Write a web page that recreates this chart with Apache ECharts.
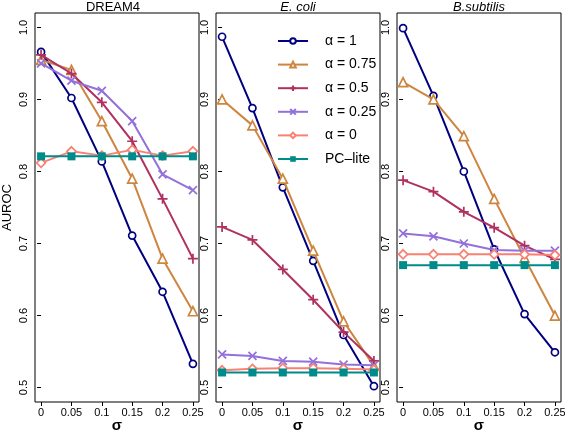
<!DOCTYPE html>
<html><head><meta charset="utf-8">
<script src="https://cdn.jsdelivr.net/npm/echarts@6/dist/echarts.min.js"></script>
<style>html,body{margin:0;padding:0;background:#fff}#c{width:565px;height:433px}</style>
</head><body><div id="c"></div>
<script>
// ---- data ----
const sigma = [0, 0.05, 0.1, 0.15, 0.2, 0.25];
const xTicks = [0, 0.05, 0.1, 0.15, 0.2, 0.25];
const yTicks = [0.5, 0.6, 0.7, 0.8, 0.9, 1.0];
const panelTitles = ['DREAM4', 'E. coli', 'B.subtilis'];
const xAxisTitle = 'σ';
const seriesNames = ['α = 1', 'α = 0.75', 'α = 0.5', 'α = 0.25', 'α = 0', 'PC–lite'];

const dream4_a1   = [0.966, 0.902, 0.814, 0.711, 0.633, 0.533];
const dream4_a075 = [0.955, 0.941, 0.870, 0.790, 0.679, 0.606];
const dream4_a05  = [0.962, 0.936, 0.896, 0.842, 0.762, 0.679];
const dream4_a025 = [0.950, 0.926, 0.912, 0.870, 0.796, 0.774];
const dream4_a0   = [0.812, 0.828, 0.822, 0.830, 0.822, 0.828];
const dream4_pc   = [0.821, 0.821, 0.821, 0.821, 0.821, 0.821];

const ecoli_a1    = [0.987, 0.888, 0.778, 0.676, 0.573, 0.502];
const ecoli_a075  = [0.900, 0.864, 0.790, 0.690, 0.592, 0.530];
const ecoli_a05   = [0.723, 0.705, 0.664, 0.622, 0.577, 0.537];
const ecoli_a025  = [0.546, 0.544, 0.537, 0.536, 0.532, 0.531];
const ecoli_a0    = [0.524, 0.526, 0.527, 0.527, 0.526, 0.525];
const ecoli_pc    = [0.521, 0.521, 0.521, 0.521, 0.521, 0.521];

const bsub_a1     = [0.999, 0.905, 0.800, 0.692, 0.602, 0.549];
const bsub_a075   = [0.924, 0.900, 0.849, 0.762, 0.680, 0.600];
const bsub_a05    = [0.788, 0.772, 0.744, 0.722, 0.697, 0.678];
const bsub_a025   = [0.714, 0.710, 0.700, 0.691, 0.690, 0.690];
const bsub_a0     = [0.685, 0.685, 0.685, 0.685, 0.685, 0.684];
const bsub_pc     = [0.670, 0.670, 0.670, 0.670, 0.670, 0.670];

const panels = [
  [dream4_a1, dream4_a075, dream4_a05, dream4_a025, dream4_a0, dream4_pc],
  [ecoli_a1, ecoli_a075, ecoli_a05, ecoli_a025, ecoli_a0, ecoli_pc],
  [bsub_a1, bsub_a075, bsub_a05, bsub_a025, bsub_a0, bsub_pc]
];

// ---- styles ----
const FONT = "'Liberation Sans', Arial, Helvetica, sans-serif";
const colors = ['#000080', '#CD853F', '#B03060', '#9370DB', '#FA8072', '#008B8B'];
const PLUS = 'path://M5,0L5,10M0,5L10,5';
const CROSS = 'path://M0,0L10,10M10,0L0,10';
const marks = [
  {symbol: 'circle', size: 7, fill: '#fff'},
  {symbol: 'triangle', size: 9, fill: '#fff'},
  {symbol: PLUS, size: 10, fill: 'none'},
  {symbol: CROSS, size: 8, fill: 'none'},
  {symbol: 'diamond', size: 9, fill: '#fff'},
  {symbol: 'rect', size: 8, fill: null}
];
const gridLefts = [35, 216, 397];
const gridW = 164, gridTop = 13, gridH = 389;
const titleX = [113, 298, 479];

const grids = [], xAxes = [], yAxes = [], series = [], graphics = [];
for (let p = 0; p < 3; p++) {
  grids.push({left: gridLefts[p], top: gridTop, width: gridW, height: gridH,
    show: true, borderColor: '#000', borderWidth: 1, containLabel: false, outerBoundsMode: 'none'});
  xAxes.push({
    type: 'value', gridIndex: p, min: -0.01, max: 0.26,
    axisLine: {show: false}, splitLine: {show: false},
    axisTick: {show: true, customValues: xTicks, length: 4, lineStyle: {color: '#000', width: 1}},
    axisLabel: {customValues: xTicks, fontSize: 11, color: '#000', margin: 5, fontFamily: FONT}
  });
  yAxes.push({
    type: 'value', gridIndex: p, min: 0.48, max: 1.02,
    axisLine: {show: false}, splitLine: {show: false},
    axisTick: {show: true, customValues: yTicks, length: 4, lineStyle: {color: '#000', width: 1}},
    axisLabel: {customValues: yTicks, fontSize: 11, color: '#000', margin: 6, rotate: 90,
      fontFamily: FONT, formatter: v => v.toFixed(1)},
    name: p === 0 ? 'AUROC' : '', nameLocation: 'middle', nameGap: 21,
    nameTextStyle: {fontSize: 13, color: '#000', fontFamily: FONT}
  });
  graphics.push({type: 'text', x: titleX[p], y: 7,
    style: {text: panelTitles[p], align: 'center', verticalAlign: 'middle',
      font: (p === 0 ? '' : 'italic ') + '13px ' + FONT, fill: '#000'}});
  graphics.push({type: 'text', x: gridLefts[p] + gridW / 2, y: 426,
    style: {text: xAxisTitle, align: 'center', verticalAlign: 'middle',
      font: 'bold 15px ' + FONT, fill: '#000'}});
  for (let s = 0; s < 6; s++) {
    const m = marks[s];
    series.push({
      type: 'line', name: seriesNames[s], xAxisIndex: p, yAxisIndex: p,
      data: sigma.map((x, i) => [x, panels[p][s][i]]),
      symbol: m.symbol, symbolSize: m.size, showAllSymbol: true,
      lineStyle: {color: colors[s], width: 2},
      itemStyle: {color: m.fill === null ? colors[s] : m.fill, borderColor: colors[s], borderWidth: m.fill === null ? 0 : 1.7},
      emphasis: {disabled: true}, z: 2 + s
    });
  }
}

const chart = echarts.init(document.getElementById('c'), null, {renderer: 'canvas'});
chart.setOption({
  animation: false,
  backgroundColor: '#fff',
  textStyle: {fontFamily: FONT},
  grid: grids, xAxis: xAxes, yAxis: yAxes, series: series,
  legend: {
    orient: 'vertical', left: 272, top: 28, itemWidth: 30, itemHeight: 7, itemGap: 7.6,
    data: seriesNames, selectedMode: false,
    textStyle: {fontSize: 14, color: '#000', lineHeight: 16, padding: [0, 0, 0, 12], fontFamily: FONT}
  },
  graphic: graphics
});
</script></body></html>
